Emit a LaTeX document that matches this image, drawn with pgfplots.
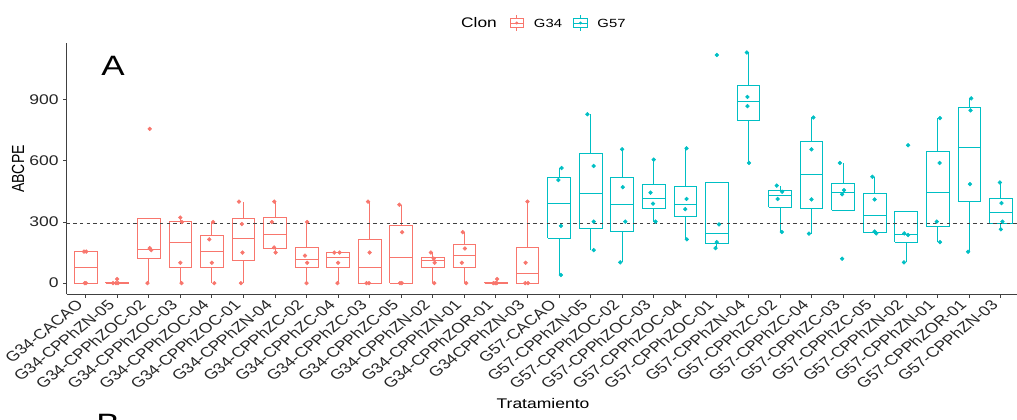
\documentclass[border=0pt]{standalone}
\usepackage{graphicx}
\usepackage{pgfplots}
\pgfplotsset{compat=1.18}
\usepackage{fontspec}
\setmainfont{Liberation Sans}
\definecolor{cA}{HTML}{F8766D}
\definecolor{cB}{HTML}{00BFC4}
% #1 colour, #2 position, #3 lower whisker, #4 Q1, #5 median, #6 Q3, #7 upper whisker
\newcommand\bx[7]{%
 \pgfmathsetmacro\xa{#2-0.36}\pgfmathsetmacro\xb{#2+0.36}%
 \edef\tmp{%
 \noexpand\addplot[#1, line width=0.55pt, line join=miter] coordinates {(\xa,#4) (\xb,#4) (\xb,#6) (\xa,#6) (\xa,#4)};
 \noexpand\addplot[#1, line width=0.55pt] coordinates {(\xa,#5) (\xb,#5)};
 \noexpand\addplot[#1, line width=0.55pt] coordinates {(#2,#3) (#2,#4)};
 \noexpand\addplot[#1, line width=0.55pt] coordinates {(#2,#6) (#2,#7)};}\tmp}
\newcommand\xl[1]{\scalebox{1.25}[1]{\rotatebox{45}{#1}}}
\newcommand\yl[1]{\scalebox{1.25}[1]{#1}}
\pgfplotstableread{
x y
-0.05 155
0.02 155
0.01 0
-0.03 0
1.00 20
0.87 0
0.96 0
1.03 0
2.03 757
2.03 172
2.08 162
1.96 0
3.00 322
3.05 300
3.00 100
3.04 0
4.04 300
3.92 215
4.00 100
4.08 0
4.86 400
4.95 290
4.97 150
4.92 0
5.98 400
5.90 300
5.97 175
6.02 150
7.02 300
6.95 135
7.02 100
7.00 0
7.88 150
8.05 150
8.00 100
7.98 0
8.95 400
9.00 150
8.90 0
8.98 0
9.94 385
10.03 250
9.96 0
10.02 0
10.94 150
11.03 120
11.06 100
11.05 0
11.95 250
12.02 170
11.92 100
12.06 0
13.04 20
12.92 0
12.98 0
13.03 0
14.00 400
13.94 100
13.93 0
14.02 0
}\ptsA
\pgfplotstableread{
x y
15.08 565
14.98 506
15.06 281
15.06 40
15.90 829
16.10 575
16.10 302
16.10 162
17.00 657
17.02 471
17.10 302
16.94 102
18.00 606
17.90 444
17.98 390
18.06 302
19.04 662
19.04 413
19.00 363
19.05 215
20.00 1120
20.07 288
20.00 201
19.96 172
20.95 1132
20.97 914
20.97 869
21.02 590
21.90 479
22.07 449
21.93 413
22.06 251
23.06 813
23.00 657
23.00 411
22.92 243
23.90 590
24.03 456
23.97 436
23.97 120
24.93 522
25.00 411
25.00 253
25.05 244
26.06 677
25.94 244
26.06 236
25.93 102
27.07 810
27.06 590
26.97 302
27.07 201
28.06 907
28.04 848
28.02 486
27.96 154
28.97 494
29.02 393
29.05 302
29.00 264
}\ptsB
\begin{document}
\begin{tikzpicture}
\useasboundingbox (0,0) rectangle (762.75pt,314.25pt);
\clip (0,0) rectangle (762.75pt,314.25pt);
\begin{axis}[at={(50pt,93.5pt)}, anchor=south west, scale only axis,
  width=712.7pt, height=188.25pt,
  xmin=-0.6, xmax=29.51, ymin=-55, ymax=1177,
  axis x line*=bottom, axis y line*=left,
  axis line style={black!75, line width=0.8pt},
  tick style={black!75, line width=0.6pt}, major tick length=2.5pt, tick align=outside,
  xtick={0,...,29}, ytick={0,300,600,900},
  yticklabels={\yl{0},\yl{300},\yl{600},\yl{900}},
  xticklabels={\xl{G34-CACAO},\xl{G34-CPPhZN-05},\xl{G34-CPPhZOC-02},\xl{G34-CPPhZOC-03},\xl{G34-CPPhZOC-04},\xl{G34-CPPhZOC-01},\xl{G34-CPPhZN-04},\xl{G34-CPPhZC-02},\xl{G34-CPPhZC-04},\xl{G34-CPPhZC-03},\xl{G34-CPPhZC-05},\xl{G34-CPPhZN-02},\xl{G34-CPPhZN-01},\xl{G34-CPPhZOR-01},\xl{G34CPPhZN-03},\xl{G57-CACAO},\xl{G57-CPPhZN-05},\xl{G57-CPPhZOC-02},\xl{G57-CPPhZOC-03},\xl{G57-CPPhZOC-04},\xl{G57-CPPhZOC-01},\xl{G57-CPPhZN-04},\xl{G57-CPPhZC-02},\xl{G57-CPPhZC-04},\xl{G57-CPPhZC-03},\xl{G57-CPPhZC-05},\xl{G57-CPPhZN-02},\xl{G57-CPPhZN-01},\xl{G57-CPPhZOR-01},\xl{G57-CPPhZN-03}},
  x tick label style={font=\fontsize{10.5}{12}\selectfont, text=black!85, anchor=north east, inner sep=1pt},
  y tick label style={font=\fontsize{10.5}{12}\selectfont, text=black!85},
]
\bx{cA}{0}{0}{0}{77.5}{155}{155}
\bx{cA}{1}{0}{0}{0}{5}{5}
\bx{cA}{2}{0}{121.5}{167}{318}{318}
\bx{cA}{3}{0}{75}{200}{305.5}{322}
\bx{cA}{4}{0}{75}{157.5}{236}{300}
\bx{cA}{5}{0}{112.5}{220}{317.5}{400}
\bx{cA}{6}{150}{168.75}{237.5}{325}{400}
\bx{cA}{7}{0}{75}{117.5}{176}{300}
\bx{cA}{8}{0}{75}{125}{150}{150}
\bx{cA}{9}{0}{0}{75}{212.5}{400}
\bx{cA}{10}{0}{0}{125}{284}{385}
\bx{cA}{11}{0}{75}{110}{127.5}{150}
\bx{cA}{12}{0}{75}{135}{190}{250}
\bx{cA}{13}{0}{0}{0}{5}{5}
\bx{cA}{14}{0}{0}{50}{175}{400}
\bx{cB}{15}{40}{221}{393.5}{521}{565}
\bx{cB}{16}{162}{267}{438.5}{638.5}{829}
\bx{cB}{17}{102}{252}{386.5}{517.5}{657}
\bx{cB}{18}{302}{368}{417}{484.5}{606}
\bx{cB}{19}{215}{326}{388}{475}{662}
\bx{cB}{20}{172}{194}{244.5}{496}{496}
\bx{cB}{21}{590}{799}{891.5}{968.5}{1132}
\bx{cB}{22}{251}{372.5}{431}{456.5}{479}
\bx{cB}{23}{243}{369}{534}{696}{813}
\bx{cB}{24}{357}{357}{446}{489.5}{590}
\bx{cB}{25}{244}{251}{332}{439}{522}
\bx{cB}{26}{102}{202.5}{240}{352}{352}
\bx{cB}{27}{201}{277}{446}{645}{810}
\bx{cB}{28}{154}{403}{667}{863}{907}
\bx{cB}{29}{264}{292.5}{347.5}{418}{494}
\addplot[black!75, line width=0.5pt, dash pattern=on 2.5pt off 2.5pt] coordinates {(-0.6,292) (29.51,292)};
\addplot[only marks, mark=*, mark size=1.4pt, cA, mark options={draw=none, fill=cA}] table[x=x,y=y] {\ptsA};
\addplot[only marks, mark=*, mark size=1.4pt, cB, mark options={draw=none, fill=cB}] table[x=x,y=y] {\ptsB};
\end{axis}
\begin{scope}[shift={(0pt,314.25pt)}, x=0.75pt, y=-0.75pt]
\node[font=\fontsize{10.5}{12}\selectfont] at (18,169) {\scalebox{1.25}[1]{\rotatebox{90}{ABCPE}}};
\node[font=\fontsize{10.5}{12}\selectfont] at (543,403) {\yl{Tratamiento}};
\node[font=\fontsize{21}{24}\selectfont] at (113,66) {\yl{A}};
\node[font=\fontsize{21}{24}\selectfont] at (108,424) {\yl{B}};
\node[font=\fontsize{10.4}{12}\selectfont] at (479,23) {\yl{Clon}};
\node[font=\fontsize{8.9}{11}\selectfont] at (548,23) {\yl{G34}};
\node[font=\fontsize{8.9}{11}\selectfont] at (611.5,23) {\yl{G57}};
\foreach \c/\x in {cA/516.75, cB/580.5}{
  \draw[\c, line width=0.5pt] (\x-6.7,18.5) rectangle (\x+6.7,27.5);
  \draw[\c, line width=0.5pt] (\x-6.7,23) -- (\x+6.7,23);
  \draw[\c, line width=0.5pt] (\x,15) -- (\x,18.5) (\x,27.5) -- (\x,31);
  \fill[\c] (\x,23) circle (1.6);
}
\end{scope}
\end{tikzpicture}
\end{document}
